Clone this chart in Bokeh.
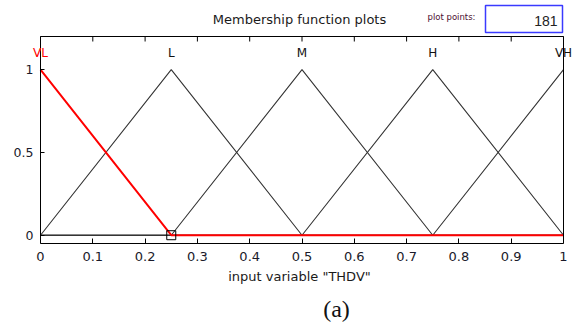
from bokeh.plotting import figure
from bokeh.models import Range1d, FixedTicker, LinearAxis, Label
from bokeh.embed import file_html
from bokeh.resources import INLINE

# ---- data ----
mf_names = ["VL", "L", "M", "H", "VH"]
mf_a = [-0.25, 0.0, 0.25, 0.5, 0.75]
mf_b = [0.0, 0.25, 0.5, 0.75, 1.0]
mf_c = [0.25, 0.5, 0.75, 1.0, 1.25]
selected = "VL"
x_ticks = [0, 0.1, 0.2, 0.3, 0.4, 0.5, 0.6, 0.7, 0.8, 0.9, 1.0]
x_tick_labels = ["0", "0.1", "0.2", "0.3", "0.4", "0.5", "0.6", "0.7", "0.8", "0.9", "1"]
y_ticks = [0, 0.5, 1.0]
y_tick_labels = ["0", "0.5", "1"]
plot_points = "181"
var_name = "THDV"
title_text = "Membership function plots"

X_LO, X_HI = 0.0, 1.0
Y_LO, Y_HI = -0.05, 1.2
MF_LABEL_Y = 1.1


def tri_points(a, b, c):
    xs = sorted(set([X_LO, X_HI] + [v for v in (a, b, c) if X_LO <= v <= X_HI]))
    ys = [max(0.0, min((x - a) / (b - a), (c - x) / (c - b))) for x in xs]
    return xs, ys


FONT = "DejaVu Sans"
W, H = 574, 325
# axes box in page pixels (the frame spans the whole canvas except the bottom strip)
BOX_L, BOX_R, BOX_T, BOX_B = 40, 563, 36, 243
kx = (BOX_R - BOX_L) / (X_HI - X_LO)
ky = (BOX_B - BOX_T) / (Y_HI - Y_LO)
x_range = Range1d(X_LO - BOX_L / kx, X_HI + (W - BOX_R) / kx)
y_range = Range1d(Y_LO, Y_HI + BOX_T / ky)


def px_x(px):
    return X_LO + (px - BOX_L) / kx


def px_y(py):
    return Y_HI + (BOX_T - py) / ky


p = figure(width=W, height=H, output_backend="svg", toolbar_location=None,
           x_range=x_range, y_range=y_range,
           min_border_left=0, min_border_right=0, min_border_top=0, min_border_bottom=H - BOX_B,
           background_fill_color="white", border_fill_color="white")
p.grid.visible = False
p.outline_line_color = None

# bottom axis
xa = p.xaxis[0]
xa.bounds = (X_LO, X_HI)
xa.ticker = FixedTicker(ticks=x_ticks)
xa.major_label_overrides = {t: l for t, l in zip(x_ticks, x_tick_labels)}
xa.major_tick_in = 5
xa.major_tick_out = 0
xa.minor_tick_line_color = None
xa.major_label_standoff = 8
xa.major_label_text_font = FONT
xa.major_label_text_font_size = "13px"
xa.major_label_text_color = "#1a1a2a"
xa.axis_line_color = "black"
xa.major_tick_line_color = "black"

# left axis, pinned at x = 0
ya = p.yaxis[0]
ya.fixed_location = X_LO
ya.bounds = (Y_LO, Y_HI)
ya.ticker = FixedTicker(ticks=y_ticks)
ya.major_label_overrides = {t: l for t, l in zip(y_ticks, y_tick_labels)}
ya.major_tick_in = 4
ya.major_tick_out = 0
ya.minor_tick_line_color = None
ya.major_label_standoff = 7
ya.major_label_text_font = FONT
ya.major_label_text_font_size = "12.5px"
ya.major_label_text_color = "#1a1a2a"
ya.axis_line_color = "black"
ya.major_tick_line_color = "black"

# right border, pinned at x = X_HI
ra = LinearAxis(fixed_location=X_HI, bounds=(Y_LO, Y_HI), ticker=FixedTicker(ticks=y_ticks),
                major_tick_line_color=None, minor_tick_line_color=None,
                major_label_text_color=None, axis_line_color="black")
ra.major_label_overrides = {t: "" for t in y_ticks}
p.add_layout(ra, "right")

# top border of the axes box with inward ticks
p.segment(x0=[X_LO], y0=[Y_HI], x1=[X_HI], y1=[Y_HI], line_color="black", line_width=1)
p.segment(x0=x_ticks, y0=[Y_HI] * len(x_ticks), x1=x_ticks,
          y1=[Y_HI - 5 / ky] * len(x_ticks), line_color="black", line_width=1)

# membership functions
for name, a, b, c in zip(mf_names, mf_a, mf_b, mf_c):
    if name == selected:
        continue
    xs, ys = tri_points(a, b, c)
    p.line(xs, ys, line_color="#333333", line_width=1.1)
for name, a, b, c in zip(mf_names, mf_a, mf_b, mf_c):
    if name != selected:
        continue
    xs, ys = tri_points(a, b, c)
    p.line(xs, ys, line_color="#ff0000", line_width=2)
    p.scatter([c], [0], marker="square", size=9, fill_color=None,
              line_color="black", line_width=1)

# MF labels
for name, b in zip(mf_names, mf_b):
    p.add_layout(Label(x=b, y=MF_LABEL_Y, text=name, text_align="center",
                       text_baseline="middle", text_font=FONT, text_font_size="12px",
                       text_color="#ff0000" if name == selected else "#111111"))

# header
p.add_layout(Label(x=px_x(299), y=px_y(19), text=title_text, text_align="center",
                   text_baseline="middle", text_font=FONT, text_font_size="13px",
                   text_color="#1a1a1a"))
p.add_layout(Label(x=px_x(427), y=px_y(16), text="plot points:", text_align="left",
                   text_baseline="middle", text_font=FONT, text_font_size="8.5px",
                   text_color="#4b1030"))
p.quad(left=[px_x(485)], right=[px_x(562)], top=[px_y(5)], bottom=[px_y(32)],
       fill_color="white", line_color="#3a3aff", line_width=1.5)
p.add_layout(Label(x=px_x(557), y=px_y(20.5), text=plot_points, text_align="right",
                   text_baseline="middle", text_font="Liberation Sans", text_font_size="14px",
                   text_color="#222222"))

# axis title and caption (bottom strip)
p.add_layout(Label(x=px_x(299), y=px_y(276), text='input variable "%s"' % var_name,
                   text_align="center", text_baseline="middle", text_font=FONT,
                   text_font_size="13px", text_color="#1a1a1a"), "below")
p.add_layout(Label(x=px_x(336), y=px_y(308), text="(a)", text_align="center",
                   text_baseline="middle", text_font="Liberation Serif", text_font_size="24px",
                   text_color="#111111"), "below")

open("out.html", "w").write(file_html(p, INLINE))
